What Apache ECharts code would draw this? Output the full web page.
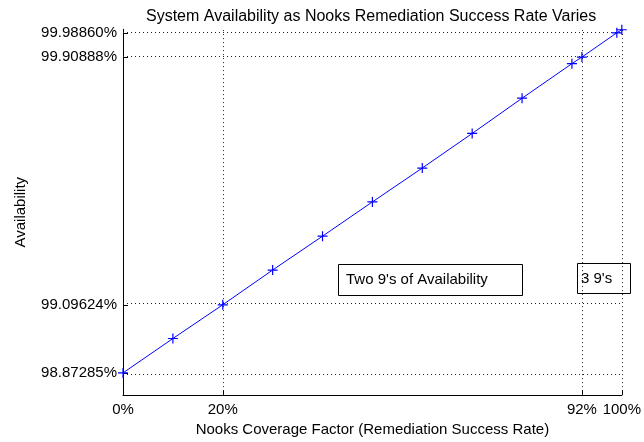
<!DOCTYPE html>
<html>
<head>
<meta charset="utf-8">
<script src="https://cdn.jsdelivr.net/npm/echarts@6/dist/echarts.min.js"></script>
<style>
  html, body { margin: 0; padding: 0; background: #fff; }
  #chart { width: 644px; height: 442px; }
</style>
</head>
<body>
<div id="chart"></div>
<script>
// Coverage factor (%) and resulting system availability (%)
const coverage = [0, 10, 20, 30, 40, 50, 60, 70, 80, 90, 92, 99, 100];
const availability = [98.87285, 98.9856, 99.09624, 99.2103, 99.3214, 99.4338,
                      99.5449, 99.6583, 99.7739, 99.8873, 99.90888, 99.98860, 99.9985];

// Tick positions shown on each axis
const xTicks = [0, 20, 92, 100];
const yTicks = [98.87285, 99.09624, 99.90888, 99.98860];

// Boxed notes, anchored at their top-left corner in data coordinates
const notes = [
  { text: "Two 9's of Availability", x: 43.1, y: 99.2308, w: 184, h: 31, pad: 8 },
  { text: "3 9's", x: 91.0, y: 99.234, w: 53, h: 30, pad: 4 }
];

const FONT = 'Liberation Sans, Arial, Helvetica, sans-serif';
const chart = echarts.init(document.getElementById('chart'), null, { renderer: 'canvas' });

const gridLineStyle = { color: '#222', width: 1, type: [1, 3] };

chart.setOption({
  animation: false,
  backgroundColor: '#fff',
  title: {
    text: 'System Availability as Nooks Remediation Success Rate Varies',
    left: 146,
    top: 9,
    padding: 0,
    textStyle: { fontFamily: FONT, fontSize: 16, fontWeight: 'normal', color: '#000' }
  },
  grid: { left: 123, right: 20, top: 29.3, bottom: 42, containLabel: false },
  xAxis: {
    type: 'value',
    min: 0,
    max: 100,
    name: 'Nooks Coverage Factor (Remediation Success Rate)',
    nameLocation: 'middle',
    nameGap: 25,
    nameTextStyle: { fontFamily: FONT, fontSize: 15, color: '#000' },
    axisLine: { show: true, onZero: false, lineStyle: { color: '#000', width: 1 } },
    axisTick: { show: true, inside: true, length: 5, customValues: xTicks, lineStyle: { color: '#000' } },
    axisLabel: {
      customValues: xTicks, margin: 7,
      fontFamily: FONT, fontSize: 15, color: '#000',
      formatter: v => v + '%'
    },
    splitLine: { show: false }
  },
  yAxis: {
    type: 'value',
    min: 98.8,
    max: 100,
    name: 'Availability',
    nameLocation: 'middle',
    nameGap: 95,
    nameTextStyle: { fontFamily: FONT, fontSize: 15, color: '#000' },
    axisLine: { show: true, onZero: false, lineStyle: { color: '#000', width: 1 } },
    axisTick: { show: true, inside: true, length: 5, customValues: yTicks, lineStyle: { color: '#000' } },
    axisLabel: {
      customValues: yTicks, margin: 6,
      fontFamily: FONT, fontSize: 15, color: '#000',
      formatter: v => v.toFixed(5) + '%'
    },
    splitLine: { show: false }
  },
  series: [
    {
      // dotted grid at the tick positions
      type: 'line',
      data: [],
      silent: true,
      markLine: {
        silent: true,
        symbol: 'none',
        label: { show: false },
        lineStyle: gridLineStyle,
        emphasis: { disabled: true },
        data: [
          ...xTicks.filter(v => v > 0).map(v => ({ xAxis: v })),
          ...yTicks.map(v => ({ yAxis: v }))
        ]
      }
    },
    {
      type: 'line',
      data: coverage.map((c, i) => [c, availability[i]]),
      symbol: 'path://M0,5L10,5M5,0L5,10',
      symbolSize: 10,
      showAllSymbol: true,
      lineStyle: { color: '#0000ff', width: 1 },
      itemStyle: { color: 'none', borderColor: '#0000ff', borderWidth: 1.2 },
      emphasis: { disabled: true },
      z: 5
    }
  ]
});

// Place the boxed notes using the chart's own coordinate conversion
const graphics = [];
notes.forEach(n => {
  const p = chart.convertToPixel({ gridIndex: 0 }, [n.x, n.y]);
  graphics.push({
    type: 'rect',
    shape: { x: Math.round(p[0]) + 0.5, y: Math.round(p[1]) + 0.5, width: n.w, height: n.h },
    style: { fill: 'none', stroke: '#000', lineWidth: 1 },
    z: 10
  });
  graphics.push({
    type: 'text',
    x: Math.round(p[0]) + n.pad,
    y: Math.round(p[1]) + n.h / 2 + 0.5,
    style: { text: n.text, fontFamily: FONT, fontSize: 15, fill: '#000', verticalAlign: 'middle', align: 'left' },
    z: 10
  });
});
chart.setOption({ graphic: graphics });
</script>
</body>
</html>
